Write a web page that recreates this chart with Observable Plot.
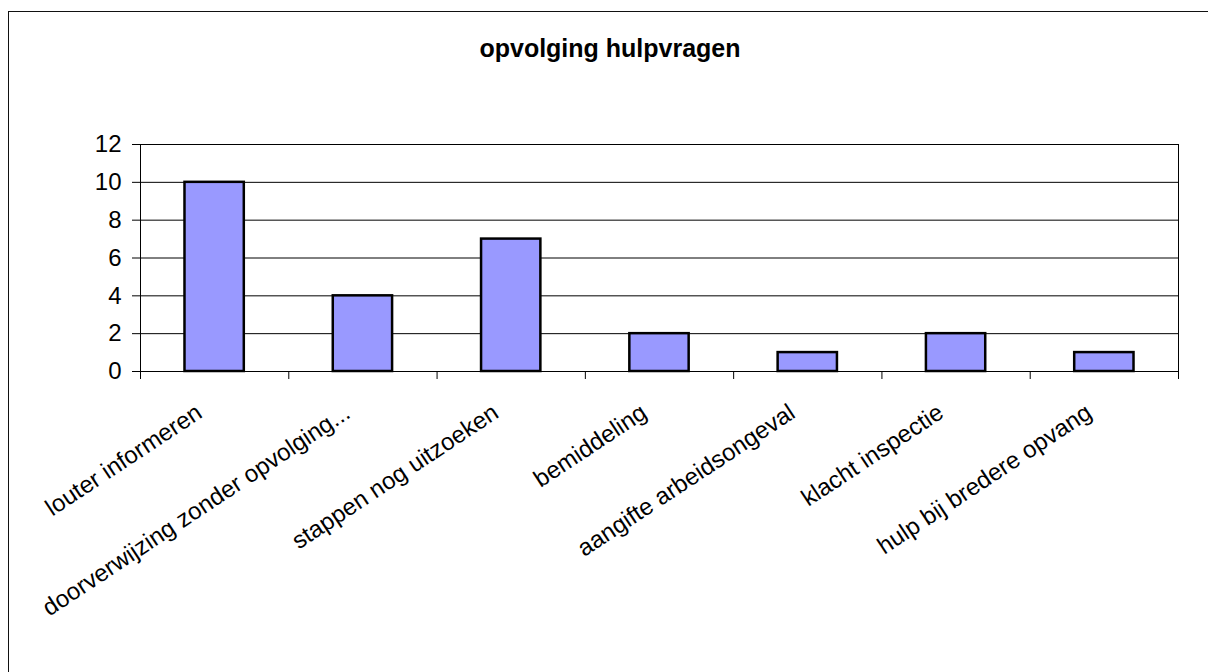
<!DOCTYPE html>
<html>
<head>
<meta charset="utf-8">
<script src="https://cdn.jsdelivr.net/npm/d3@7"></script>
<script src="https://cdn.jsdelivr.net/npm/@observablehq/plot@0.6"></script>
<style>
  html, body { margin: 0; padding: 0; background: #fff; overflow: hidden; }
  #wrap { position: relative; width: 1208px; height: 672px; }
  #border { position: absolute; left: 8px; top: 11px; width: 1300px; height: 800px; border: 1px solid #111; box-sizing: border-box; }
  #title { position: absolute; left: 0; top: 36px; width: 1220px; text-align: center;
           font: bold 25px "Liberation Sans", Arial, sans-serif; line-height: 25px; color: #000; }
  #chart { position: absolute; left: 0; top: 0; }
</style>
</head>
<body>
<div id="wrap">
  <div id="border"></div>
  <div id="title">opvolging hulpvragen</div>
  <div id="chart"></div>
</div>
<script>
const categories = [
  "louter informeren",
  "doorverwijzing zonder opvolging...",
  "stappen nog uitzoeken",
  "bemiddeling",
  "aangifte arbeidsongeval",
  "klacht inspectie",
  "hulp bij bredere opvang"
];
const values = [10, 4, 7, 2, 1, 2, 1];
const yTicks = [0, 2, 4, 6, 8, 10, 12];

const data = categories.map((name, i) => ({i, name, value: values[i]}));
const boundaries = d3.range(categories.length + 1);

const chart = Plot.plot({
  width: 1208,
  height: 672,
  marginLeft: 140,
  marginRight: 30,
  marginTop: 144,
  marginBottom: 301,
  style: {fontFamily: '"Liberation Sans", Arial, sans-serif', fontSize: "24px", color: "#000", background: "transparent", overflow: "visible"},
  x: {type: "linear", domain: [0, categories.length]},
  y: {domain: [0, 12]},
  marks: [
    Plot.gridY(yTicks, {stroke: "#000", strokeOpacity: 1, strokeWidth: 1}),
    Plot.frame({stroke: "#000", strokeWidth: 1}),
    Plot.rectY(data, {
      x1: d => d.i + 0.3,
      x2: d => d.i + 0.7,
      y1: 0,
      y2: "value",
      fill: "#9999FF",
      stroke: "#000",
      strokeWidth: 2.5
    }),
    Plot.axisY({ticks: yTicks, tickSize: 8, tickPadding: 11, fontSize: 24, label: null, stroke: "#000"}),
    Plot.axisX({ticks: boundaries, tickSize: 8, tickFormat: () => "", label: null, stroke: "#000"}),
    Plot.text(data, {
      x: d => d.i + 0.5,
      y: () => 0,
      text: "name",
      rotate: -33.5,
      textAnchor: "end",
      lineAnchor: "bottom",
      fontSize: 24,
      dx: -11,
      dy: 45,
      fill: "#000"
    })
  ]
});
document.getElementById("chart").appendChild(chart);
</script>
</body>
</html>
